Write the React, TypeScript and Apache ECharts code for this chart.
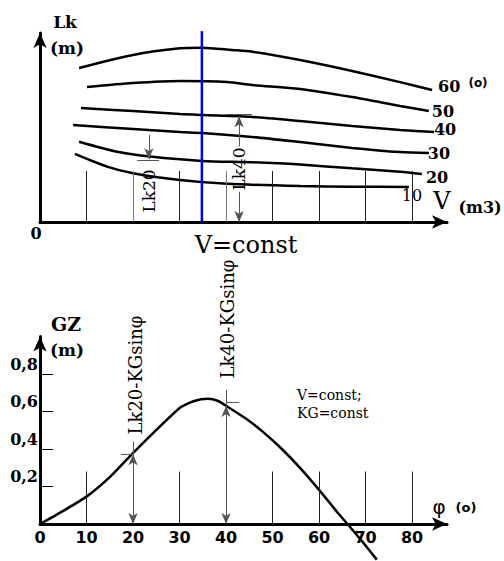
import React, { useEffect, useRef } from "react";
import * as echarts from "echarts";

// ---- Top chart: Lk against V, one curve per heel angle ----
const curveNames = ["60", "50", "40", "30", "20", "10"];
const lk60: [number, number][] = [[8.4, 81.5], [20.0, 88.4], [30.1, 91.9], [34.8, 92.2], [41.3, 91.0], [45.6, 90.1], [55.9, 85.7], [67.1, 79.9], [77.4, 74.0], [84.3, 69.8]];
const lk50: [number, number][] = [[10.1, 71.4], [20.0, 73.5], [30.1, 74.6], [40.2, 74.1], [45.6, 72.5], [55.9, 70.4], [67.1, 66.1], [77.4, 61.4], [83.6, 58.7]];
const lk40: [number, number][] = [[8.8, 60.3], [20.0, 58.7], [30.1, 57.1], [34.8, 56.6], [45.6, 55.6], [55.9, 53.4], [67.1, 50.8], [77.4, 48.7], [84.7, 47.6]];
const lk30: [number, number][] = [[7.1, 51.3], [20.0, 49.2], [30.1, 47.6], [34.8, 47.1], [45.6, 45.0], [55.9, 42.3], [67.1, 39.2], [77.4, 37.0], [83.6, 36.5]];
const lk20: [number, number][] = [[8.4, 42.5], [16.6, 37.2], [23.7, 34.6], [34.8, 32.3], [45.6, 31.6], [55.9, 30.4], [67.1, 28.4], [77.4, 26.6], [82.1, 25.4]];
const lk10: [number, number][] = [[7.5, 36.0], [14.4, 29.3], [20.0, 25.8], [30.1, 22.2], [40.2, 20.2], [55.9, 19.0], [67.1, 18.7], [79.3, 18.5]];
const lkCurves = [lk60, lk50, lk40, lk30, lk20, lk10];
const constV = 34.8;
const constVTop = 101;
const topGuideV = [10, 20, 30, 40, 50, 60, 70, 80];
const topGuideTop = 27;
// dimension Lk20 / Lk40: [v, curve value, start of line, tick from, tick to]
const lk20Dim = [23.4, 33.2, 46, 20.9, 25.6];
const lk40Dim = [42.8, 56.0, 40, 39.8, 45.6];

// ---- Bottom chart: GZ against heel angle ----
const gzPhi = [0, 5, 10, 15, 19.4, 23.7, 30.1, 33, 36.1, 38.3, 40.1, 44.4, 48, 52, 56, 60, 64, 66.1, 69.5, 72.4];
const gzVal = [0, 0.07, 0.146, 0.25, 0.363, 0.47, 0.62, 0.655, 0.668, 0.656, 0.629, 0.56, 0.49, 0.4, 0.297, 0.182, 0.06, 0, -0.1, -0.19];
const phiTicks = [0, 10, 20, 30, 40, 50, 60, 70, 80];
const gzTicks = [0.2, 0.4, 0.6, 0.8];
const bottomGuidePhi = [10, 30, 50, 60, 70, 80];
const bottomGuideTop = 0.28;
// dimension lines: [phi, curve value, extension top]
const gz20Dim = [20, 0.372, 0.44];
const gz40Dim = [40, 0.63, 0.715];

const AX = "#000";
const DIM = "#555";

function seg(a: number[], b: number[], s0: string, s1: string, color: string, width = 1) {
  return [
    { coord: a, symbol: s0, symbolSize: [7, 11], lineStyle: { color, width, type: "solid" } },
    { coord: b, symbol: s1, symbolSize: [7, 11] },
  ];
}

function txt(
  text: string, x: number, y: number, family: string, size: number,
  weight = "normal", rot = 0, align = "center"
) {
  return {
    type: "text",
    x,
    y,
    rotation: rot,
    silent: true,
    style: {
      text,
      fontFamily: family,
      fontSize: size,
      fontWeight: weight,
      fill: "#000",
      align,
      verticalAlign: "middle",
      textAlign: align,
      textVerticalAlign: "middle",
    },
  };
}

const labelOffsets: number[][] = [[6, -4], [3, 0], [0, -3], [-1, 0], [4, 4], [-7, 8]];

export default function App() {
  const ref = useRef<HTMLDivElement>(null);
  useEffect(() => {
    if (!ref.current) return;
    const chart = echarts.init(ref.current, undefined, { renderer: "svg" });
    const axisLine = {
      show: true,
      onZero: true,
      symbol: ["none", "arrow"],
      symbolSize: [10, 15],
      lineStyle: { color: AX, width: 3 },
    };
    const topSeries = lkCurves.map((d, i) => ({
      type: "line",
      name: curveNames[i],
      xAxisIndex: 0,
      yAxisIndex: 0,
      data: d,
      smooth: 0.25,
      symbol: "none",
      clip: false,
      lineStyle: { color: "#000", width: 2.5 },
      endLabel: {
        show: true,
        formatter: curveNames[i],
        distance: 0,
        offset: labelOffsets[i],
        color: "#000",
        fontFamily: "DejaVu Serif",
        fontWeight: i === 5 ? "normal" : "bold",
        fontSize: 16,
      },
    }));
    const topMarks: any[] = topGuideV.map((v) =>
      seg([v, 0], [v, topGuideTop], "none", "none", v === 20 || v === 40 ? "#777" : "#222", 1)
    );
    topMarks.push(seg([lk20Dim[0], lk20Dim[2]], [lk20Dim[0], lk20Dim[1]], "none", "arrow", DIM));
    topMarks.push(seg([lk20Dim[3], lk20Dim[1] - 0.4], [lk20Dim[4], lk20Dim[1] - 0.4], "none", "none", DIM));
    topMarks.push(seg([lk20Dim[0], -15], [lk20Dim[0], 0], "none", "arrow", DIM));
    topMarks.push(seg([lk40Dim[0], lk40Dim[2]], [lk40Dim[0], lk40Dim[1]], "none", "arrow", DIM));
    topMarks.push(seg([lk40Dim[3], lk40Dim[1] + 1.1], [lk40Dim[4], lk40Dim[1] + 1.1], "none", "none", DIM));
    topMarks.push(seg([lk40Dim[0], 16], [lk40Dim[0], 0], "none", "arrow", DIM));

    const bottomMarks: any[] = bottomGuidePhi.map((p) =>
      seg([p, 0], [p, bottomGuideTop], "none", "none", "#222", 1)
    );
    [gz20Dim, gz40Dim].forEach((d, i) => {
      const mid = d[1] / 2;
      bottomMarks.push(seg([d[0], mid], [d[0], d[1]], "none", "arrow", DIM));
      bottomMarks.push(seg([d[0], mid], [d[0], 0], "none", "arrow", DIM));
      bottomMarks.push(seg([d[0], d[1]], [d[0], d[2]], "none", "none", DIM));
      if (i === 0) bottomMarks.push(seg([d[0] - 2.6, d[1]], [d[0], d[1]], "none", "none", DIM));
      else bottomMarks.push(seg([d[0], d[1] + 0.02], [d[0] + 2.8, d[1] + 0.02], "none", "none", DIM));
    });

    chart.setOption({
      animation: false,
      grid: [
        { left: 40, top: 33, width: 407, height: 189 },
        { left: 40, top: 336.5, width: 407, height: 187.5 },
      ],
      xAxis: [
        {
          type: "value", gridIndex: 0, min: 0, max: 87.5,
          axisLine, axisTick: { show: false }, axisLabel: { show: false }, splitLine: { show: false },
        },
        {
          type: "value", gridIndex: 1, min: 0, max: 87.5, interval: 10,
          axisLine, axisTick: { show: false }, splitLine: { show: false },
          axisLabel: {
            customValues: phiTicks,
            color: "#000", fontFamily: "DejaVu Sans", fontWeight: "bold", fontSize: 16, margin: 5,
          },
        },
      ],
      yAxis: [
        {
          type: "value", gridIndex: 0, min: 0, max: 100,
          axisLine, axisTick: { show: false }, axisLabel: { show: false }, splitLine: { show: false },
        },
        {
          type: "value", gridIndex: 1, min: 0, max: 1.0, interval: 0.2,
          axisLine, splitLine: { show: false },
          axisTick: { show: true, inside: true, length: 13, customValues: gzTicks, lineStyle: { color: "#000", width: 1 } },
          axisLabel: {
            customValues: gzTicks,
            formatter: (v: number) => v.toFixed(1).replace(".", ","),
            verticalAlign: "bottom",
            margin: 2,
            padding: [0, 0, 2, 0],
            color: "#000", fontFamily: "DejaVu Serif", fontWeight: "bold", fontSize: 16,
          },
        },
      ],
      series: [
        ...topSeries,
        {
          type: "line",
          xAxisIndex: 0,
          yAxisIndex: 0,
          data: [[constV, 0], [constV, constVTop]],
          symbol: "none",
          clip: false,
          lineStyle: { color: "#0000ff", width: 2.5 },
          markLine: { silent: true, animation: false, label: { show: false }, data: topMarks },
        },
        {
          type: "line",
          xAxisIndex: 1,
          yAxisIndex: 1,
          data: gzPhi.map((p, i) => [p, gzVal[i]]),
          smooth: 0.2,
          symbol: "none",
          clip: false,
          lineStyle: { color: "#000", width: 2.5 },
          markLine: { silent: true, animation: false, label: { show: false }, data: bottomMarks },
        },
      ],
      graphic: [
        txt("Lk", 65, 22, "DejaVu Serif", 17, "bold"),
        txt("(m)", 67, 48, "DejaVu Serif", 17, "bold"),
        txt("0", 36, 233, "DejaVu Serif", 16, "bold"),
        txt("(o)", 478, 83, "DejaVu Sans", 12, "bold"),
        txt("V", 442, 201, "DejaVu Serif", 24),
        txt("(m3)", 480, 207, "DejaVu Serif", 16, "bold"),
        txt("V=const", 246, 245, "DejaVu Serif", 24),
        txt("Lk20", 149, 191, "DejaVu Serif", 17, "normal", Math.PI / 2),
        txt("Lk40", 239, 169, "DejaVu Serif", 17, "normal", Math.PI / 2),
        txt("GZ", 66, 324, "DejaVu Serif", 19, "bold"),
        txt("(m)", 67, 350, "DejaVu Serif", 17, "bold"),
        txt("Lk20-KGsinφ", 135, 375, "DejaVu Serif", 18, "normal", Math.PI / 2),
        txt("Lk40-KGsinφ", 227, 319, "DejaVu Serif", 18, "normal", Math.PI / 2),
        txt("V=const;", 297, 395, "DejaVu Serif", 14, "normal", 0, "left"),
        txt("KG=const", 297, 413, "DejaVu Serif", 14, "normal", 0, "left"),
        txt("φ", 439, 507, "DejaVu Sans", 20),
        txt("(o)", 466, 507, "DejaVu Sans", 13, "bold"),
      ],
    });
    return () => chart.dispose();
  }, []);
  return (
    <div
      ref={ref}
      style={{ position: "absolute", left: 0, top: 0, width: 504, height: 561, background: "#fff" }}
    />
  );
}
